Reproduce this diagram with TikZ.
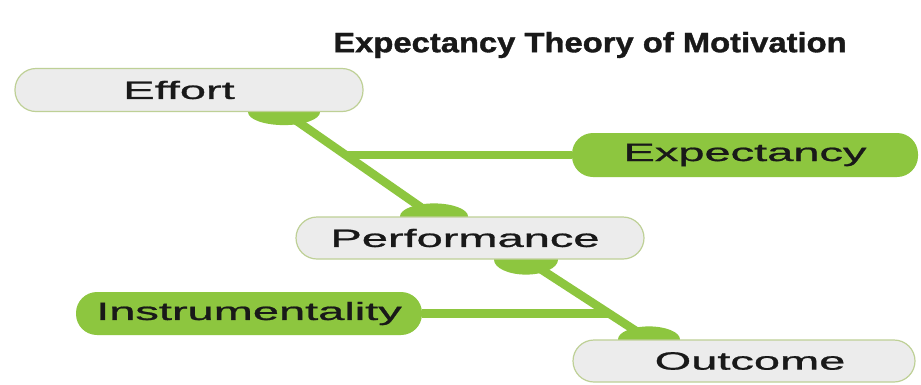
\documentclass[tikz,border=0pt]{standalone}
\usepackage{fontspec}
\setmainfont{Liberation Sans}
\newfontfamily\boxfont[FakeBold=0.8]{Liberation Sans}
\newfontfamily\titlefont[FakeBold=1.2]{Liberation Sans Bold}
\usetikzlibrary{backgrounds,calc}
\definecolor{lime}{RGB}{141,198,63}
\definecolor{boxgray}{RGB}{236,236,236}
\definecolor{boxedge}{RGB}{190,208,150}
\definecolor{txt}{RGB}{25,25,25}
\newcommand{\boxtext}[1]{\scalebox{1.88}[1]{\boxfont\fontsize{25}{25}\selectfont #1}}
\begin{document}
\begin{tikzpicture}[x=1pt,y=-1pt,
  plainbox/.style={draw=boxedge, line width=1.2pt, fill=boxgray, rounded corners=21pt,
    minimum width=348pt, minimum height=43pt, inner sep=0pt, text=txt},
  greenbox/.style={fill=lime, rounded corners=21pt,
    minimum width=346pt, minimum height=44pt, inner sep=0pt, text=txt},
  link/.style={draw=lime, line width=8.5pt},
  tab/.style={fill=lime}]
\useasboundingbox (0,0) rectangle (921,384);

\node[text=txt] (title) at (590,45)
  {\scalebox{1.17}[1]{\titlefont\fontsize{28}{28}\selectfont Expectancy Theory of Motivation}};

\node[plainbox] (effort) at (189,90) {\hspace*{-20pt}\boxtext{Effort}};
\node[greenbox] (expect) at (745,155) {\boxtext{Expectancy}};
\node[plainbox, minimum height=42pt] (perf) at (470,238) {\hspace*{-10pt}\boxtext{Performance}};
\node[greenbox, minimum height=43pt] (instr) at (249,313.5) {\boxtext{Instrumentality}};
\node[plainbox, minimum height=42pt, minimum width=342pt] (outc) at (744,361) {\hspace*{12pt}\boxtext{Outcome}};

\coordinate (effT) at ($(effort.south)+(95,0)$);
\coordinate (perfT) at ($(perf.north)+(-36,0)$);
\coordinate (perfB) at ($(perf.south)+(56,0)$);
\coordinate (outT) at ($(outc.north)+(-95,0)$);
\coordinate (j1) at ($(effT)!0.41!(perfT)$);
\coordinate (j2) at ($(perfB)!0.67!(outT)$);

\begin{scope}[on background layer]
  \fill[white] (0,0) rectangle (921,384);
  \draw[link] (effT) -- (perfT);
  \draw[link] (perfB) -- (outT);
  \draw[link] (expect.west) -- (expect.west -| j1);
  \draw[link] (instr.east) -- (instr.east -| j2);
  \fill[tab] (effT) ellipse [x radius=36pt, y radius=13pt];
  \fill[tab] (perfT) ellipse [x radius=34pt, y radius=13pt];
  \fill[tab] (perfB) ellipse [x radius=32pt, y radius=15pt];
  \fill[tab] (outT) ellipse [x radius=31pt, y radius=13pt];
\end{scope}
\end{tikzpicture}
\end{document}
